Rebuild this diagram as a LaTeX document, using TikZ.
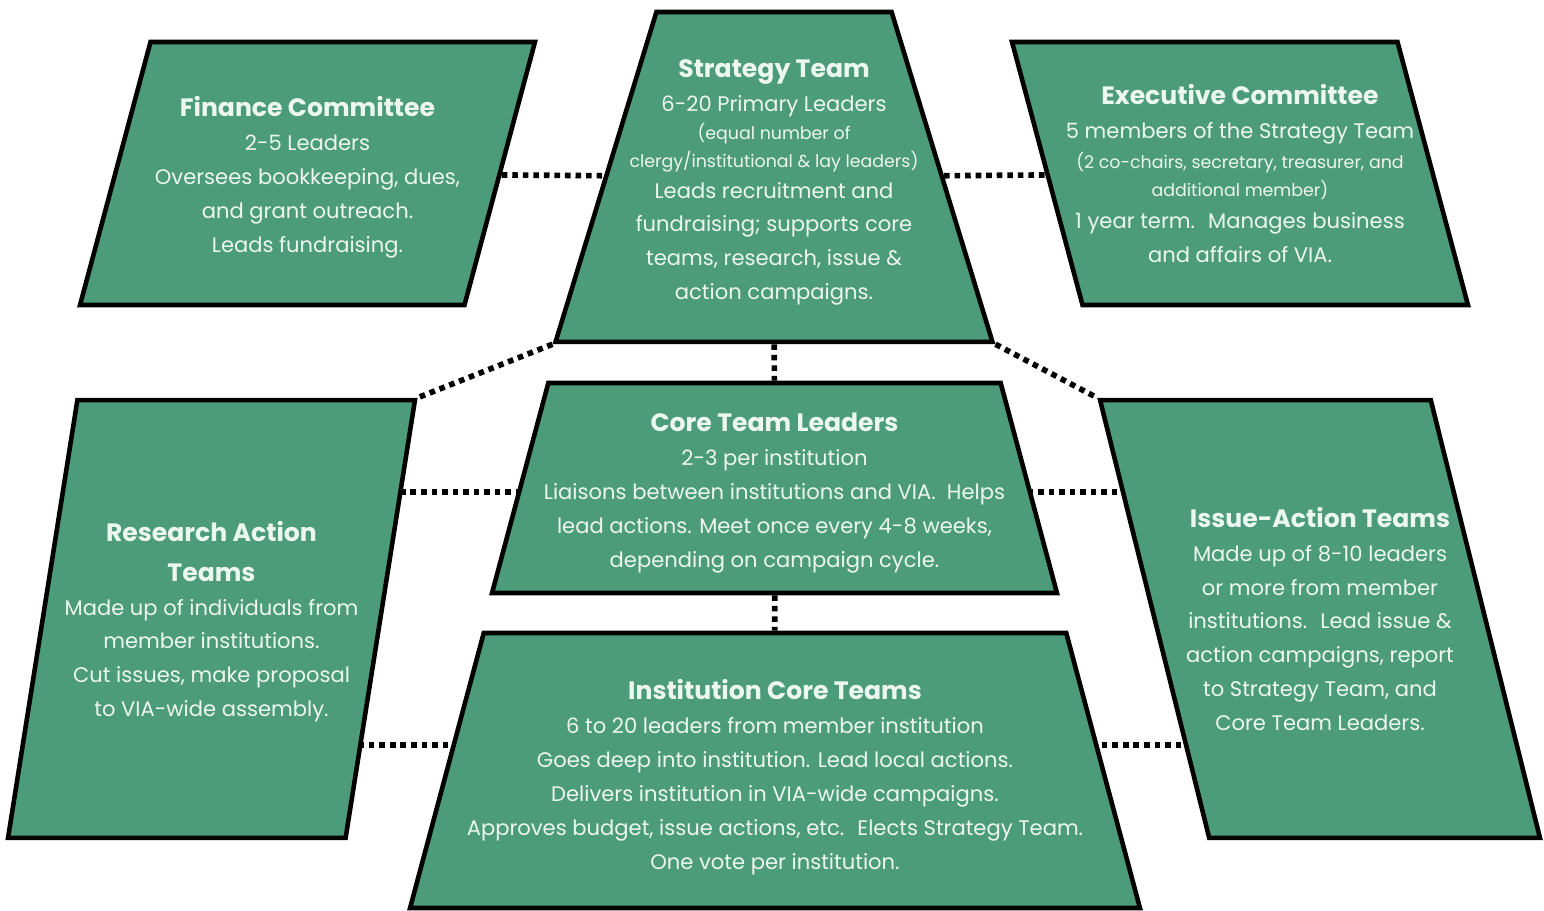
\documentclass[tikz,border=0pt]{standalone}
\usepackage{fontspec}
\setmainfont{Poppins}
\usetikzlibrary{shapes.geometric,backgrounds}

\definecolor{viagreen}{RGB}{76,155,122}
\definecolor{viatext}{RGB}{236,247,240}

\tikzset{
  box/.style={trapezium, draw=black, line width=2.6pt, fill=viagreen,
    trapezium stretches body, inner xsep=0pt},
  txt/.style={text=viatext, align=center, inner sep=0pt,
    font=\fontsize{12}{19.3}\selectfont},
  link/.style={line width=3.2pt, dash pattern=on 3.2pt off 2.8pt},
}
\newcommand{\boxtitle}[1]{{\fontsize{14.3}{19}\selectfont\bfseries #1}}
\newcommand{\boxsmall}[1]{{\fontsize{9.9}{12}\selectfont #1}}

\begin{document}
\begin{tikzpicture}[x=0.02cm, y=-0.02cm]
  \useasboundingbox (0,0) rectangle (1544,911);
  % блоки (координаты в пикселях, inner ysep = половина высоты)
  \node[box, trapezium left angle=75, trapezium right angle=105, minimum width=9.1cm, inner ysep=2.63cm] (fin) at (307.5,173.5) {};
  \node[box, trapezium angle=73, minimum width=8.74cm, inner ysep=3.3cm] (strat) at (774,177) {};
  \node[box, trapezium left angle=105, trapezium right angle=75, minimum width=9.12cm, inner ysep=2.63cm] (exec) at (1240,173.5) {};
  \node[box, trapezium left angle=81, trapezium right angle=99, minimum width=8.14cm, inner ysep=4.38cm] (res) at (211.5,619) {};
  \node[box, trapezium left angle=104, trapezium right angle=76, minimum width=8.8cm, inner ysep=4.38cm] (iss) at (1320,619) {};
  \node[box, trapezium angle=75, minimum width=11.3cm, inner ysep=2.1cm] (core) at (774.5,488) {};
  \node[box, trapezium angle=75, minimum width=14.6cm, inner ysep=2.75cm] (inst) at (775,770.5) {};
  \coordinate (mid) at (775,492); % уровень средних связей
  \coordinate (low) at (775,745); % уровень нижних связей

  % тексты
  \node[txt] (fin-t) at ([yshift=-0.08cm]fin) {\boxtitle{Finance Committee}\\ 2-5 Leaders\\ Oversees bookkeeping, dues,\\ and grant outreach.\\ Leads fundraising.};
  \node[txt] (strat-t) at ([yshift=-0.11cm]strat) {\boxtitle{Strategy Team}\\ 6-20 Primary Leaders\\[-3pt] \boxsmall{(equal number of}\\[-3.5pt] \boxsmall{clergy/institutional \& lay leaders)}\\[-2pt] Leads recruitment and\\ fundraising; supports core\\ teams, research, issue \&\\ action campaigns.};
  \node[txt] (exec-t) at (exec) {\boxtitle{Executive Committee}\\ 5 members of the Strategy Team\\[-2pt] \boxsmall{(2 co-chairs, secretary, treasurer, and}\\[-3.5pt] \boxsmall{additional member)}\\[-1pt] 1 year term.~ Manages business\\ and affairs of VIA.};
  \node[txt] (res-t) at ([yshift=-0.06cm]res) {\boxtitle{Research Action}\\[3pt] \boxtitle{Teams}\\ Made up of individuals from\\ member institutions.\\ Cut issues, make proposal\\ to VIA-wide assembly.};
  \node[txt] (iss-t) at (iss) {\boxtitle{Issue-Action Teams}\\ Made up of 8-10 leaders\\ or more from member\\ institutions.~ Lead issue \&\\ action campaigns, report\\ to Strategy Team, and\\ Core Team Leaders.};
  \node[txt] (core-t) at ([yshift=-0.1cm]core) {\boxtitle{Core Team Leaders}\\ 2-3 per institution\\ Liaisons between institutions and VIA.~ Helps\\ lead actions. Meet once every 4-8 weeks,\\ depending on campaign cycle.};
  \node[txt] (inst-t) at ([yshift=-0.13cm]inst) {\boxtitle{Institution Core Teams}\\ 6 to 20 leaders from member institution\\ Goes deep into institution. Lead local actions.\\ Delivers institution in VIA-wide campaigns.\\ Approves budget, issue actions, etc.~ Elects Strategy Team.\\ One vote per institution.};

  % связи (под блоками)
  \begin{scope}[on background layer]
    \draw[link] (fin) -- (strat);
    \draw[link] (strat) -- (exec);
    \draw[link] (strat.bottom left corner) -- (res.top right corner);
    \draw[link] (strat.bottom right corner) -- (iss.top left corner);
    \draw[link] (strat) -- (core);
    \draw[link] (core) -- (inst);
    \draw[link] (core |- mid) -- (res |- mid);
    \draw[link] (core |- mid) -- (iss |- mid);
    \draw[link] (inst |- low) -- (res |- low);
    \draw[link] (inst |- low) -- (iss |- low);
  \end{scope}
\end{tikzpicture}
\end{document}
